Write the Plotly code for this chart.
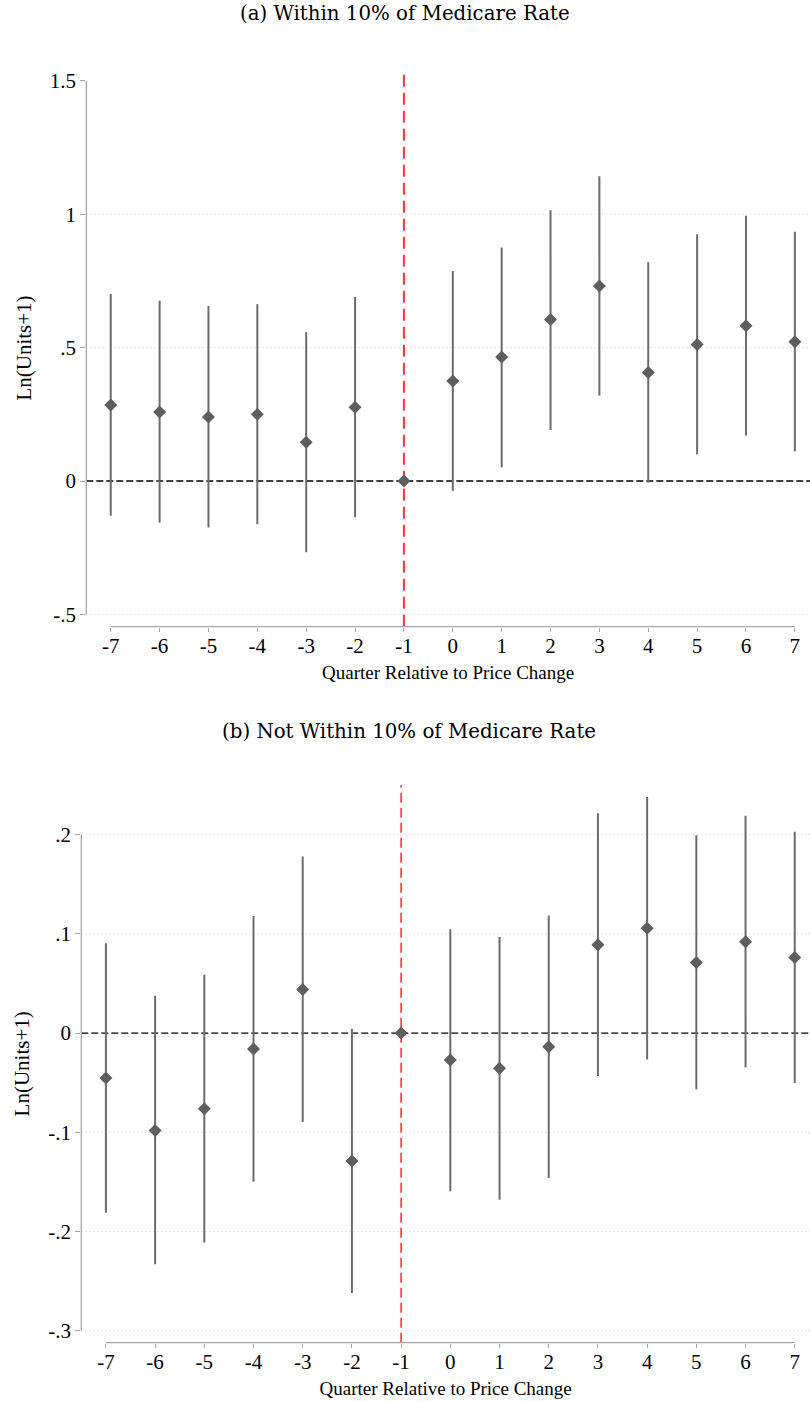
import plotly.graph_objects as go

# Event-time quarters
quarters = [-7, -6, -5, -4, -3, -2, -1, 0, 1, 2, 3, 4, 5, 6, 7]

# Panel (a): within 10% of Medicare rate
coef_a = [0.285, 0.259, 0.240, 0.250, 0.145, 0.276, 0.0, 0.375, 0.465, 0.605, 0.731, 0.407, 0.512, 0.582, 0.522]
lo_a = [-0.130, -0.156, -0.174, -0.162, -0.267, -0.136, 0.0, -0.037, 0.051, 0.191, 0.320, -0.006, 0.100, 0.170, 0.111]
hi_a = [0.701, 0.676, 0.656, 0.663, 0.558, 0.690, 0.0, 0.787, 0.875, 1.015, 1.142, 0.820, 0.925, 0.994, 0.934]

# Panel (b): not within 10% of Medicare rate
coef_b = [-0.0453, -0.0981, -0.0762, -0.0161, 0.0439, -0.129, 0.0, -0.0272, -0.0356, -0.0138, 0.0889, 0.1057, 0.0711, 0.0919, 0.0761]
lo_b = [-0.181, -0.233, -0.211, -0.150, -0.0896, -0.262, 0.0, -0.1595, -0.168, -0.146, -0.0433, -0.0266, -0.0568, -0.0346, -0.0504]
hi_b = [0.0906, 0.0376, 0.0587, 0.118, 0.178, 0.0043, 0.0, 0.1047, 0.0967, 0.1184, 0.2215, 0.238, 0.1994, 0.219, 0.203]

ytick_a = [-0.5, 0, 0.5, 1, 1.5]
ytext_a = ["-.5", "0", ".5", "1", "1.5"]
grid_a = [-0.5, 0.5, 1]

ytick_b = [-0.3, -0.2, -0.1, 0, 0.1, 0.2]
ytext_b = ["-.3", "-.2", "-.1", "0", ".1", ".2"]
grid_b = [-0.3, -0.2, -0.1, 0.1, 0.2]

title_a = "(a) Within 10% of Medicare Rate"
title_b = "(b) Not Within 10% of Medicare Rate"
xtitle = "Quarter Relative to Price Change"
ytitle = "Ln(Units+1)"

W, H = 810, 1402
FONT = "Liberation Serif"
CAPTION_FONT = "DejaVu Serif"
AXIS_GREY = "#a6a6a6"
MARK = "#5e5e5e"
BAR = "#6b6b6b"


def pyf(p):
    """Convert a pixel row from the top into a paper fraction."""
    return 1 - p / H


fig = go.Figure()

panels = [
    dict(coef=coef_a, lo=lo_a, hi=hi_a, xa="x", ya="y",
         yr=[-0.546, 1.543], ticks=ytick_a, text=ytext_a, grid=grid_a,
         ylo=-0.5, yhi=1.5, xdom=[86.3 / W, 1.0], ydom=[pyf(626.7), pyf(69.3)],
         red_dash="12px,6px", red_w=2),
    dict(coef=coef_b, lo=lo_b, hi=hi_b, xa="x2", ya="y2",
         yr=[-0.3121, 0.250], ticks=ytick_b, text=ytext_b, grid=grid_b,
         ylo=-0.3, yhi=0.2, xdom=[81.3 / W, 1.0], ydom=[pyf(1342.7), pyf(785)],
         red_dash="10px,5px", red_w=1.6),
]

shapes = []
for i, p in enumerate(panels):
    plus = [h - c for h, c in zip(p["hi"], p["coef"])]
    minus = [c - l for c, l in zip(p["coef"], p["lo"])]
    fig.add_trace(go.Scatter(
        x=quarters, y=p["coef"], mode="markers", xaxis=p["xa"], yaxis=p["ya"],
        marker=dict(symbol="diamond", size=10, color=MARK),
        error_y=dict(type="data", array=plus, arrayminus=minus, width=0,
                     thickness=2, color=BAR),
        showlegend=False,
    ))

    xref, yref = p["xa"], p["ya"]
    xdomref, ydomref = xref + " domain", yref + " domain"

    # dotted horizontal grid
    for g in p["grid"]:
        shapes.append(dict(type="line", xref=xdomref, yref=yref, x0=0, x1=1, y0=g, y1=g,
                           line=dict(color="#cfcfcf", width=1, dash="1px,3px"), layer="below"))
    # zero reference line
    shapes.append(dict(type="line", xref=xdomref, yref=yref, x0=0, x1=1, y0=0, y1=0,
                       line=dict(color="black", width=1.3, dash="7px,3px"), layer="below"))
    # event marker at quarter -1
    shapes.append(dict(type="line", xref=xref, yref=ydomref, x0=-1, x1=-1, y0=0, y1=1,
                       line=dict(color="#ff3535", width=p["red_w"], dash=p["red_dash"]),
                       layer="below"))
    # axis lines spanning the tick range only
    shapes.append(dict(type="line", xref=xdomref, yref=yref, x0=0, x1=0,
                       y0=p["ylo"], y1=p["yhi"], line=dict(color=AXIS_GREY, width=1.3)))
    shapes.append(dict(type="line", xref=xref, yref=ydomref, x0=-7, x1=7, y0=0, y1=0,
                       line=dict(color=AXIS_GREY, width=1.3)))

    sfx = "" if i == 0 else "2"
    fig.update_layout({
        "xaxis" + sfx: dict(
            domain=p["xdom"], range=[-7.5, 7.31], anchor="y" + sfx,
            tickmode="array", tickvals=quarters, ticktext=[str(q) for q in quarters],
            ticks="outside", ticklen=4, tickcolor=AXIS_GREY, tickwidth=1,
            ticklabelstandoff=-4,
            showgrid=False, zeroline=False, showline=False,
            tickfont=dict(family=FONT, size=21, color="black"),
            title=dict(text=xtitle, font=dict(family=FONT, size=19, color="black"), standoff=8),
        ),
        "yaxis" + sfx: dict(
            domain=p["ydom"], range=p["yr"], anchor="x" + sfx,
            tickmode="array", tickvals=p["ticks"], ticktext=p["text"],
            ticks="outside", ticklen=5, tickcolor=AXIS_GREY, tickwidth=1,
            showgrid=False, zeroline=False, showline=False,
            tickfont=dict(family=FONT, size=21, color="black"),
            title=dict(text=ytitle, font=dict(family=FONT, size=21, color="black"), standoff=12),
        ),
    })

annotations = [
    dict(text=title_a, x=0.5, y=pyf(14), xref="paper", yref="paper", showarrow=False,
         xanchor="center", yanchor="middle", font=dict(family=CAPTION_FONT, size=19.8, color="black")),
    dict(text=title_b, x=0.505, y=pyf(731), xref="paper", yref="paper", showarrow=False,
         xanchor="center", yanchor="middle", font=dict(family=CAPTION_FONT, size=19.8, color="black")),
]

fig.update_layout(
    width=W, height=H, margin=dict(l=0, r=0, t=0, b=0),
    paper_bgcolor="white", plot_bgcolor="white",
    shapes=shapes, annotations=annotations,
)

fig.write_html("out.html")
